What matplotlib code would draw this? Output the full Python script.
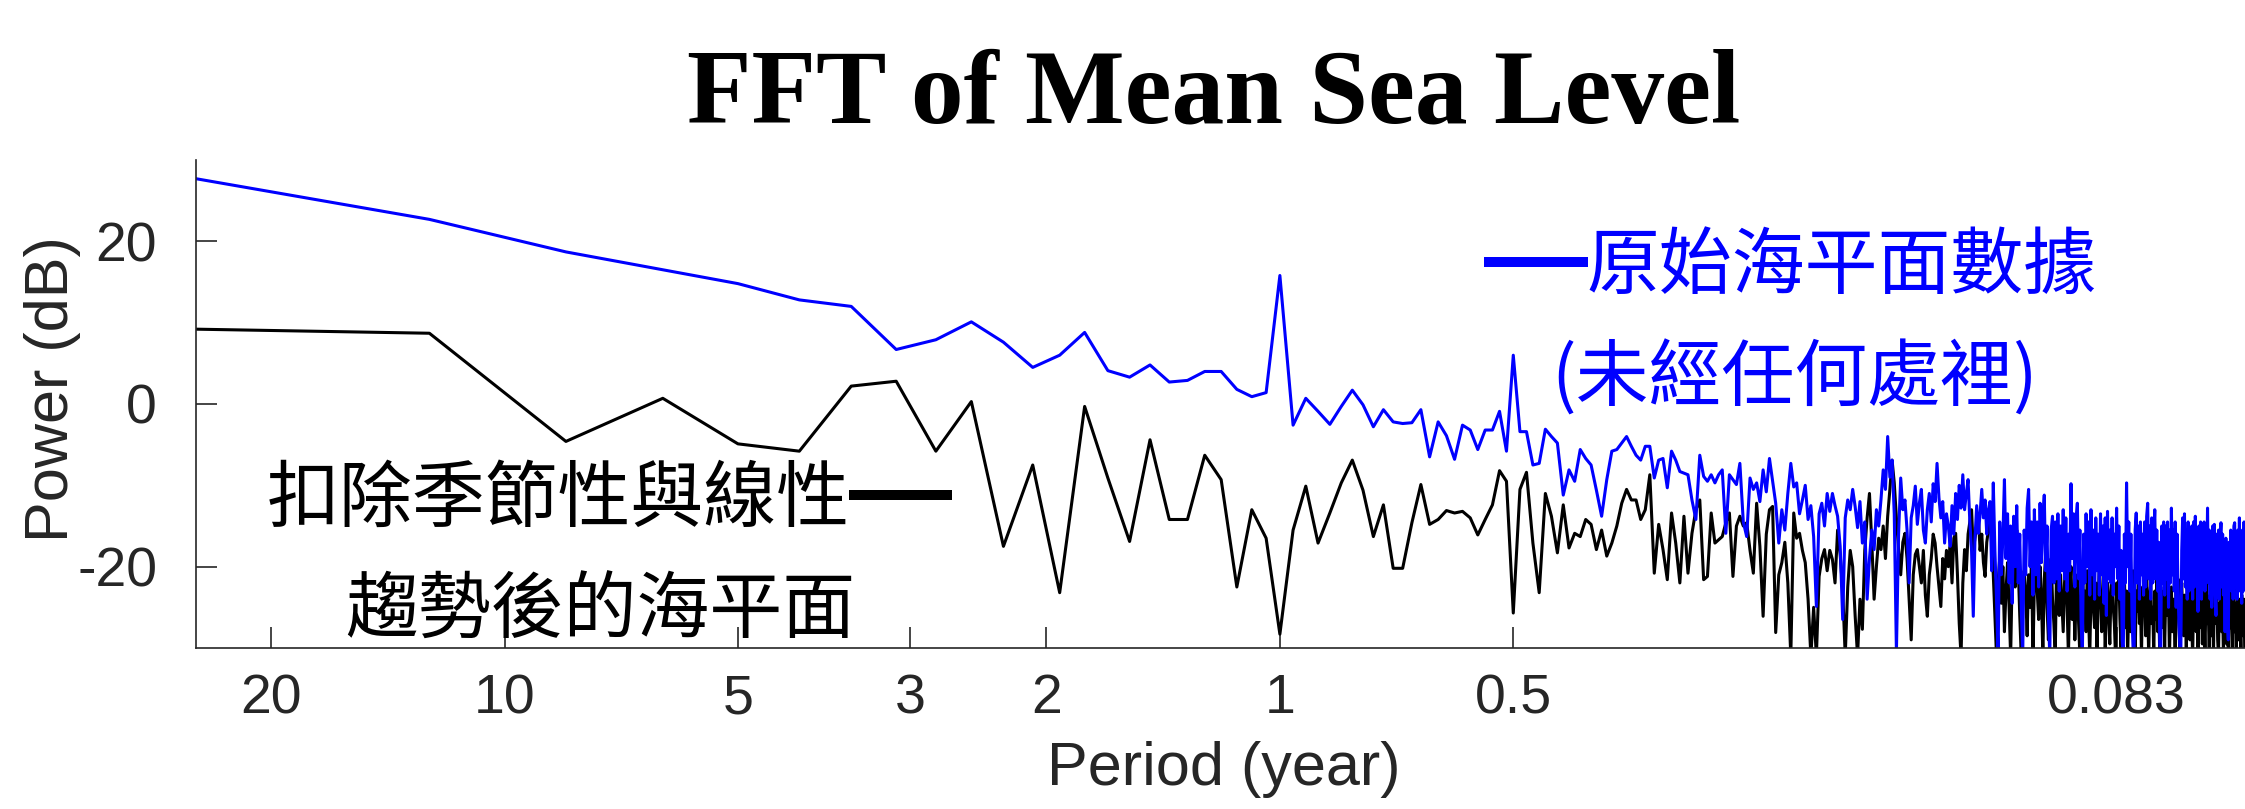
# FFT spectrum of mean sea level: raw vs. de-seasoned / de-trended
import numpy as np
import matplotlib.pyplot as plt
from matplotlib.lines import Line2D

plt.rcParams['axes.unicode_minus'] = False

# length of the record in years -> spacing of the FFT bins (cycles / year)
record_years = 25

# power (dB) of the raw sea level, bin k = 1, 2, 3, ...
raw_db = [
    27.7, 22.7, 18.7, 16.5, 14.8, 12.8, 12.0, 6.7, 7.9, 10.1,
    7.6, 4.5, 6.0, 8.8, 4.1, 3.3, 4.8, 2.7, 2.9, 4.0,
    4.0, 1.8, 0.9, 1.4, 15.8, -2.6, 0.7, -0.9, -2.5, -0.3,
    1.7, -0.1, -2.8, -0.7, -2.2, -2.4, -2.3, -0.7, -6.5, -2.2,
    -3.9, -6.8, -2.6, -3.2, -5.6, -3.2, -3.2, -0.9,
    -5.8, 6.0, -3.4, -3.4, -7.5, -7.3, -3.1, -4.0, -4.8, -11.2,
    -8.1, -9.5, -5.6, -6.7, -7.5, -10.6, -13.8, -9.3, -5.8, -5.6,
    -4.8, -4.0, -5.2, -6.3, -6.9, -5.2, -5.2, -9.1, -6.9, -6.7,
    -10.3, -5.8, -6.9, -8.3, -8.5, -8.7, -11.8, -14.2, -6.3, -8.9,
    -9.5, -8.7, -9.7, -8.7, -8.1, -15.9, -8.7, -9.3, -9.9, -7.3,
    -14.5, -16.3, -9.1, -10.5, -9.7, -12.0, -8.1, -10.8, -6.7, -9.5,
    -12.2, -17.1, -13.0, -15.5, -11.0, -7.3, -10.2, -9.7, -13.5, -11.8,
    -10.0, -14.2, -12.5, -16.3, -24.9, -13.5, -12.2, -15.0, -11.0, -13.2,
    -11.0, -12.5, -13.8, -17.5, -26.5, -14.0, -11.8, -13.0, -10.5, -12.6,
    -15.2, -12.0, -17.1, -14.5, -24.0, -19.0, -15.5, -17.9, -13.0, -15.0,
    -11.8, -8.1, -10.5, -4.0, -9.0, -6.9, -13.5, -30.5, -16.0, -9.1,
    -13.0, -11.8, -15.5, -22.0, -14.0, -12.5, -10.1, -14.8, -12.2, -10.5,
    -15.5, -17.1, -13.0, -11.0, -14.5, -9.8, -12.0, -7.3, -11.5, -14.0,
    -12.0, -17.1, -13.5, -15.0, -17.5, -12.5, -16.0, -11.0, -14.2, -10.0,
    -12.8, -8.7, -13.0, -11.0, -9.3, -14.5, -18.0, -26.1, -16.5, -12.5,
    -15.9, -13.5, -10.5, -14.0, -11.8, -16.0, -13.0,
    -12.0, -20.5, -9.7, -18.0, -24.0, -31.0, -14.5, -21.0, -16.5, -9.3,
    -19.0, -13.5, -22.0, -15.0, -24.5, -13.8, -20.0, -12.5, -22.0, -16.0,
    -25.0, -31.0, -15.5, -21.0, -12.8, -10.5, -20.0, -14.5, -23.5, -13.0,
    -21.0, -14.5, -22.5, -12.2, -19.5, -14.0, -11.2, -20.5, -15.0, -26.0,
    -31.0, -15.5, -13.8, -22.0, -14.5, -21.5, -13.5, -23.0, -15.0, -20.5,
    -13.0, -21.5, -14.0, -23.0, -16.0, -20.5, -9.8, -19.0, -13.5, -22.5,
    -14.0, -12.2, -21.5, -15.5, -27.0, -31.0, -16.0, -22.0, -13.5, -20.0,
    -14.5, -23.5, -13.0, -21.0, -15.5, -24.0, -14.0, -20.5, -16.0, -23.5,
    -13.5, -21.0, -15.0, -24.5, -14.0, -26.0, -13.2, -21.5, -15.5, -22.0,
    -14.0, -23.5, -16.0, -20.0, -12.8, -21.5, -15.0, -24.0, -18.0, -29.0,
    -31.0, -16.0, -22.0, -9.7, -20.0, -14.5, -23.0, -16.0, -26.0, -30.0,
    -31.0, -15.5, -13.4, -22.0, -15.0, -24.0, -14.5, -21.0, -16.0, -23.5,
    -14.5, -22.5, -13.8, -12.2, -21.5, -15.0, -24.0, -14.0, -22.0, -16.5,
    -13.0, -21.5, -15.5, -23.0, -17.0, -29.5, -31.0, -15.0, -22.0, -14.5,
    -23.5, -15.0, -21.5, -14.5, -25.0, -15.5, -22.0, -12.8, -21.0, -15.5,
    -23.0, -14.5, -25.0, -16.0, -22.5, -27.0, -30.0, -31.0, -18.0, -14.0,
    -21.5, -13.5, -22.5, -15.5, -24.0, -14.5, -23.0, -16.0, -21.5, -15.0,
    -24.0, -14.5, -22.5, -13.8, -21.0, -16.0, -25.5, -15.0, -22.0, -14.5,
    -24.0, -15.5, -22.5, -14.5, -23.0, -16.5, -21.0, -12.8, -22.0, -15.5,
    -24.0, -16.0, -25.0, -15.0, -22.0, -14.8, -23.5, -26.0, -16.0, -22.0,
    -15.5, -24.0, -17.0, -14.6, -22.5, -16.0, -23.5, -18.0, -28.0, -16.5,
    -24.0, -27.0, -29.0, -17.0, -22.5, -15.5, -23.0, -16.5, -24.0, -15.0,
    -14.6, -22.5, -16.5, -24.0, -15.5, -22.0, -14.0, -23.0, -17.0, -24.5,
    -15.5, -23.0, -14.5, -21.0,
]

# power (dB) after removing the seasonal cycle and the linear trend
detrended_db = [
    9.2, 8.7, -4.6, 0.7, -4.9, -5.8, 2.2, 2.8, -5.8, 0.3,
    -17.5, -7.5, -23.2, -0.3, -9.1, -16.9, -4.4, -14.2, -14.2, -6.3,
    -9.3, -22.5, -13.0, -16.5, -28.3, -15.5, -10.1, -17.1, -13.4, -9.7,
    -6.9, -10.6, -16.3, -12.4, -20.2, -20.2, -14.6, -9.9, -14.8, -14.2,
    -13.1, -13.4, -13.2, -14.0, -16.1, -14.2, -12.4, -8.2,
    -9.5, -25.7, -10.5, -8.4, -17.1, -23.2, -11.0, -13.8, -18.3, -12.4,
    -17.7, -15.9, -16.3, -14.2, -14.8, -17.9, -15.5, -18.7, -17.1, -15.0,
    -12.2, -10.5, -11.8, -11.8, -14.2, -13.0, -8.7, -20.8, -14.8, -17.9,
    -21.6, -13.4, -17.1, -22.0, -13.8, -20.8, -15.9, -13.0, -11.8, -21.6,
    -21.2, -13.4, -17.1, -16.7, -16.3, -14.6, -13.4, -21.2, -15.0, -13.8,
    -15.0, -14.6, -18.0, -20.8, -12.2, -17.5, -26.1, -16.0, -13.0, -12.6,
    -28.1, -21.0, -19.5, -17.0, -22.0, -31.0, -13.4, -16.5, -15.9, -18.0,
    -19.5, -24.0, -31.0, -25.0, -31.0, -21.2, -19.0, -17.9, -20.5, -18.0,
    -19.1, -22.0, -15.5, -18.5, -23.0, -31.0, -22.5, -18.0, -20.0, -26.0,
    -31.0, -24.0, -27.7, -18.0, -14.0, -11.0, -17.0, -24.0, -20.0, -16.5,
    -17.9, -15.0, -19.0, -13.8, -10.5, -6.9, -9.7, -14.0, -17.9, -21.0,
    -17.0, -15.9, -19.0, -24.0, -29.0, -21.0, -18.5, -17.9, -20.0, -22.0,
    -18.0, -23.5, -26.1, -21.0, -19.0, -16.0, -17.1, -20.0, -22.5, -24.9,
    -19.0, -21.5, -18.0, -20.0, -17.5, -22.0, -16.5, -15.9, -21.0, -27.0,
    -31.0, -22.0, -17.9, -20.5, -16.0, -14.5, -13.0, -18.0, -16.5, -15.0,
    -13.8, -18.0, -16.0, -19.5, -21.2, -17.0, -15.5,
    -13.8, -17.0, -21.0, -26.0, -31.0, -22.0, -19.0, -24.5, -20.0, -28.0,
    -23.0, -19.5, -25.0, -31.0, -21.0, -18.0, -22.5, -15.5, -20.0, -26.0,
    -31.0, -24.0, -20.5, -23.0, -28.5, -21.0, -25.0, -19.0, -31.0, -22.0,
    -17.5, -23.0, -26.5, -20.0, -24.0, -31.0, -21.5, -18.5, -25.0, -29.0,
    -22.0, -19.0, -24.0, -27.0, -31.0, -20.0, -23.5, -26.0, -21.0, -24.5,
    -28.0, -22.0, -19.5, -25.0, -31.0, -23.0, -20.0, -26.5, -22.5, -29.0,
    -24.0, -21.0, -27.0, -31.0, -22.5, -19.5, -25.5, -23.0, -28.0, -20.5,
    -26.0, -31.0, -23.5, -21.0, -25.0, -27.5, -22.0, -31.0, -24.0, -20.0,
    -23.0, -28.0, -25.0, -21.5, -31.0, -24.5, -22.0, -26.0, -29.5, -23.0,
    -20.5, -25.0, -27.0, -31.0, -22.0, -24.0, -21.0, -26.5, -30.0, -23.5,
    -25.0, -21.0, -27.5, -23.0, -31.0, -24.5, -22.0, -28.0, -25.5, -20.5,
    -26.0, -31.0, -23.0, -25.5, -21.5, -27.0, -24.0, -31.0, -22.5, -26.0,
    -23.5, -28.5, -21.0, -25.0, -31.0, -24.0, -22.0, -27.0, -25.0, -31.0,
    -23.0, -26.5, -21.5, -28.0, -24.5, -31.0, -22.5, -25.0, -27.5, -23.0,
    -30.0, -24.0, -21.0, -26.0, -23.5, -31.0, -25.0, -22.5, -28.0, -24.0,
    -26.5, -31.0, -23.0, -25.5, -21.5, -27.0, -31.0, -24.0, -22.0, -26.0,
    -28.5, -23.5, -25.0, -31.0, -22.0, -26.5, -24.0, -29.0, -23.0, -27.0,
    -31.0, -24.5, -22.5, -26.0, -28.0, -23.5, -31.0, -25.0, -22.0, -27.5,
    -24.0, -29.5, -23.0, -26.0, -31.0, -24.5, -22.0, -27.0, -25.5, -31.0,
    -23.5, -26.5, -28.5, -24.0, -31.0, -22.5, -25.5, -27.0, -23.0, -29.0,
    -31.0, -24.5, -26.0, -22.0, -28.0, -25.0, -31.0, -23.5, -27.0, -24.5,
    -29.5, -26.0, -31.0, -24.0, -22.5, -27.5, -25.0, -31.0, -23.0, -26.5,
    -28.0, -24.5, -31.0, -22.0, -26.0, -29.0, -24.0, -27.5, -31.0, -23.5,
    -26.0, -28.5, -24.0, -31.0,
]

period_ticks = [20, 10, 5, 3, 2, 1, 0.5, 1 / 12]
period_labels = ['20', '10', '5', '3', '2', '1', '0.5', '0.083']
y_ticks = [-20, 0, 20]

freq = np.arange(1, len(raw_db) + 1) / record_years

W, H = 2245, 809
fig = plt.figure(figsize=(W / 100, H / 100), dpi=100)
ax = fig.add_axes([196 / W, 1 - 648 / H, (W - 196) / W, (648 - 160) / H])

ax.plot(freq, detrended_db, color='black', lw=2.2)
ax.plot(freq, raw_db, color=(0, 0, 1), lw=2.2)

ax.set_xscale('log')
ax.set_xlim(0.04, 17.57)
ax.set_ylim(-30, 30)
ax.set_xticks([1 / p for p in period_ticks])
ax.set_xticklabels(period_labels)
ax.minorticks_off()
ax.set_yticks(y_ticks)

axcol = '#262626'
for s in ['top', 'right']:
    ax.spines[s].set_visible(False)
for s in ['left', 'bottom']:
    ax.spines[s].set_color(axcol)
    ax.spines[s].set_linewidth(1.2)
ax.tick_params(direction='in', length=15, width=1.2, color=axcol,
               labelcolor=axcol, labelsize=40)
ax.tick_params(axis='x', pad=18)
ax.tick_params(axis='y', pad=28)
for lab in ax.get_xticklabels() + ax.get_yticklabels():
    lab.set_family('Liberation Sans')

ax.set_xlabel('Period (year)', fontsize=44, family='Liberation Sans', color=axcol)
ax.set_ylabel('Power (dB)', fontsize=44, family='Liberation Sans', color=axcol)
ax.xaxis.set_label_coords(0.5017, -0.19)
ax.yaxis.set_label_coords(-0.056, 0.53)

fig.text(1214 / W, 1 - 122 / H, 'FFT of Mean Sea Level', ha='center', va='baseline',
         fontsize=76, fontweight='bold', family='Liberation Serif')

# annotations written in the plot
cjk = ['Noto Sans CJK TC', 'DejaVu Sans']
fs = 52.5
fig.text(558 / W, 1 - 521 / H, '扣除季節性與線性', ha='center', va='baseline',
         fontsize=fs, family=cjk, color='black')
fig.text(600 / W, 1 - 633 / H, '趨勢後的海平面', ha='center', va='baseline',
         fontsize=fs, family=cjk, color='black')
fig.text(1842 / W, 1 - 288 / H, '原始海平面數據', ha='center', va='baseline',
         fontsize=fs, family=cjk, color=(0, 0, 1))
fig.text(1795 / W, 1 - 401 / H, '(未經任何處裡)', ha='center', va='baseline',
         fontsize=fs, family=cjk, color=(0, 0, 1))

# thick dashes acting as line keys
fig.add_artist(Line2D([854 / W, 947 / W], [1 - 495 / H, 1 - 495 / H],
                      color='black', lw=7.2, transform=fig.transFigure))
fig.add_artist(Line2D([1489 / W, 1583 / W], [1 - 262 / H, 1 - 262 / H],
                      color=(0, 0, 1), lw=7.2, transform=fig.transFigure))

fig.savefig('out.png', dpi=100)
